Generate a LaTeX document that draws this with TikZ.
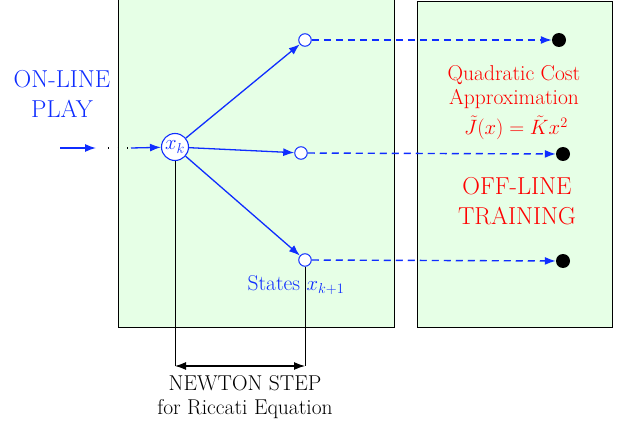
\documentclass[tikz,border=0pt]{standalone}
\usetikzlibrary{arrows.meta}
\definecolor{myblue}{RGB}{15,45,255}
\definecolor{mygreen}{RGB}{230,255,230}
\begin{document}
\begin{tikzpicture}[x=1pt,y=-1pt,
  box/.style={draw=black,fill=mygreen,line width=1pt},
  st/.style={circle,draw=myblue,fill=white,line width=1pt,minimum size=12.5pt,inner sep=0pt},
  bigst/.style={circle,draw=myblue,fill=white,line width=1.1pt,minimum size=27pt,inner sep=0pt,text=myblue},
  blackdot/.style={circle,fill=black,minimum size=14pt,inner sep=0pt},
  flow/.style={myblue,line width=1.3pt,-{Latex[length=11pt,width=8pt]}},
  dflow/.style={myblue,line width=1.4pt,dash pattern=on 7pt off 5pt,-{Latex[length=11pt,width=8pt]}},
  guide/.style={black,line width=0.6pt},
  normtxt/.style={font=\fontsize{21.5}{23.5}\selectfont,align=center,inner sep=1pt},
  bigtxt/.style={font=\fontsize{24.5}{30}\selectfont,align=center,inner sep=1pt}]
\useasboundingbox (0,0) rectangle (625,428);
\draw[box] (118,-3) rectangle (394,327);
\draw[box] (417,2) rectangle (612,327);

\node[bigst] (xk) at (175,147) {\fontsize{21}{23}\selectfont$x_k$};
\node[st] (s1) at (305,40) {};
\node[st] (s2) at (301,153) {};
\node[st] (s3) at (305,260) {};
\node[blackdot] (d1) at (559,40) {};
\node[blackdot] (d2) at (563,154) {};
\node[blackdot] (d3) at (563,261) {};

\coordinate (in0) at (60,148);
\coordinate (in1) at (96,148);
\coordinate (dots0) at (108,148);
\coordinate (dots1) at (128,148);
\coordinate (in2) at (131,148);
\draw[flow] (in0) -- (in1);
\draw[black,line width=1.3pt,dash pattern=on 1.3pt off 8.2pt] (dots0) -- (dots1);
\draw[flow] (in2) -- (xk);

\draw[flow] (xk) -- (s1);
\draw[flow] (xk) -- (s2);
\draw[flow] (xk) -- (s3);
\draw[dflow] (s1) -- (d1);
\draw[dflow] (s2) -- (d2);
\draw[dflow] (s3) -- (d3);

\coordinate (b1) at (175,366);
\coordinate (b2) at (305,366);
\draw[guide] (xk.south) -- (b1);
\draw[guide] (s3.south) -- (b2);
\draw[black,line width=1.2pt,{Latex[length=11pt,width=8pt]}-{Latex[length=11pt,width=8pt]}] (b1) -- (b2);

\node[bigtxt,text=myblue] (online) at (62,94) {ON-LINE\\PLAY};
\node[normtxt,text=myblue] (states) at (296,285) {States $x_{k+1}$};
\node[normtxt,text=red] (quad) at (514,87) {Quadratic Cost\\Approximation};
\node[normtxt,text=red] (jform) at (516,128) {$\tilde J(x)=\tilde K x^2$};
\node[bigtxt,text=red] (offline) at (517,201) {OFF-LINE\\TRAINING};
\node[normtxt,text=black] (newton) at (245,397) {NEWTON STEP\\for Riccati Equation};
\end{tikzpicture}
\end{document}
